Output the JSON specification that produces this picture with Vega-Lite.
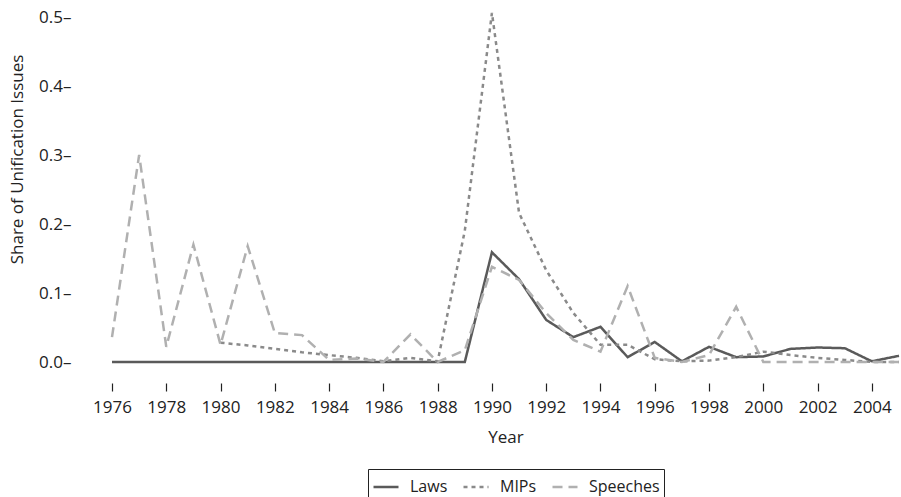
{
  "$schema": "https://vega.github.io/schema/vega-lite/v6.json",
  "width": 787,
  "height": 345,
  "autosize": {"type": "none"},
  "padding": {"left": 112, "top": 17, "right": 2, "bottom": 135},
  "config": {"view": {"stroke": null}, "font": "Open Sans", "axis": {"grid": false}},
  "data": {"values": [
    {"year": 1976, "series": "Laws", "value": 0},
    {"year": 1977, "series": "Laws", "value": 0},
    {"year": 1978, "series": "Laws", "value": 0},
    {"year": 1979, "series": "Laws", "value": 0},
    {"year": 1980, "series": "Laws", "value": 0},
    {"year": 1981, "series": "Laws", "value": 0},
    {"year": 1982, "series": "Laws", "value": 0},
    {"year": 1983, "series": "Laws", "value": 0},
    {"year": 1984, "series": "Laws", "value": 0},
    {"year": 1985, "series": "Laws", "value": 0},
    {"year": 1986, "series": "Laws", "value": 0},
    {"year": 1987, "series": "Laws", "value": 0},
    {"year": 1988, "series": "Laws", "value": 0},
    {"year": 1989, "series": "Laws", "value": 0},
    {"year": 1990, "series": "Laws", "value": 0.159},
    {"year": 1991, "series": "Laws", "value": 0.120},
    {"year": 1992, "series": "Laws", "value": 0.061},
    {"year": 1993, "series": "Laws", "value": 0.036},
    {"year": 1994, "series": "Laws", "value": 0.051},
    {"year": 1995, "series": "Laws", "value": 0.007},
    {"year": 1996, "series": "Laws", "value": 0.029},
    {"year": 1997, "series": "Laws", "value": 0.001},
    {"year": 1998, "series": "Laws", "value": 0.022},
    {"year": 1999, "series": "Laws", "value": 0.007},
    {"year": 2000, "series": "Laws", "value": 0.008},
    {"year": 2001, "series": "Laws", "value": 0.019},
    {"year": 2002, "series": "Laws", "value": 0.021},
    {"year": 2003, "series": "Laws", "value": 0.020},
    {"year": 2004, "series": "Laws", "value": 0.001},
    {"year": 2005, "series": "Laws", "value": 0.009},
    {"year": 1980, "series": "MIPs", "value": 0.028},
    {"year": 1981, "series": "MIPs", "value": 0.024},
    {"year": 1982, "series": "MIPs", "value": 0.019},
    {"year": 1983, "series": "MIPs", "value": 0.014},
    {"year": 1984, "series": "MIPs", "value": 0.010},
    {"year": 1985, "series": "MIPs", "value": 0.006},
    {"year": 1986, "series": "MIPs", "value": 0.001},
    {"year": 1987, "series": "MIPs", "value": 0.006},
    {"year": 1988, "series": "MIPs", "value": 0.001},
    {"year": 1989, "series": "MIPs", "value": 0.19},
    {"year": 1990, "series": "MIPs", "value": 0.506},
    {"year": 1991, "series": "MIPs", "value": 0.216},
    {"year": 1992, "series": "MIPs", "value": 0.133},
    {"year": 1993, "series": "MIPs", "value": 0.071},
    {"year": 1994, "series": "MIPs", "value": 0.025},
    {"year": 1995, "series": "MIPs", "value": 0.025},
    {"year": 1996, "series": "MIPs", "value": 0.004},
    {"year": 1997, "series": "MIPs", "value": 0.001},
    {"year": 1998, "series": "MIPs", "value": 0.002},
    {"year": 1999, "series": "MIPs", "value": 0.007},
    {"year": 2000, "series": "MIPs", "value": 0.015},
    {"year": 2001, "series": "MIPs", "value": 0.010},
    {"year": 2002, "series": "MIPs", "value": 0.006},
    {"year": 2003, "series": "MIPs", "value": 0.003},
    {"year": 2004, "series": "MIPs", "value": 0.0},
    {"year": 2005, "series": "MIPs", "value": 0.0},
    {"year": 1976, "series": "Speeches", "value": 0.036},
    {"year": 1977, "series": "Speeches", "value": 0.30},
    {"year": 1978, "series": "Speeches", "value": 0.022},
    {"year": 1979, "series": "Speeches", "value": 0.17},
    {"year": 1980, "series": "Speeches", "value": 0.025},
    {"year": 1981, "series": "Speeches", "value": 0.168},
    {"year": 1982, "series": "Speeches", "value": 0.042},
    {"year": 1983, "series": "Speeches", "value": 0.039},
    {"year": 1984, "series": "Speeches", "value": 0.003},
    {"year": 1985, "series": "Speeches", "value": 0.005},
    {"year": 1986, "series": "Speeches", "value": 0.0},
    {"year": 1987, "series": "Speeches", "value": 0.040},
    {"year": 1988, "series": "Speeches", "value": 0.0},
    {"year": 1989, "series": "Speeches", "value": 0.017},
    {"year": 1990, "series": "Speeches", "value": 0.138},
    {"year": 1991, "series": "Speeches", "value": 0.119},
    {"year": 1992, "series": "Speeches", "value": 0.071},
    {"year": 1993, "series": "Speeches", "value": 0.032},
    {"year": 1994, "series": "Speeches", "value": 0.015},
    {"year": 1995, "series": "Speeches", "value": 0.110},
    {"year": 1996, "series": "Speeches", "value": 0.006},
    {"year": 1997, "series": "Speeches", "value": 0.0},
    {"year": 1998, "series": "Speeches", "value": 0.010},
    {"year": 1999, "series": "Speeches", "value": 0.080},
    {"year": 2000, "series": "Speeches", "value": 0.0},
    {"year": 2001, "series": "Speeches", "value": 0.0},
    {"year": 2002, "series": "Speeches", "value": 0.0},
    {"year": 2003, "series": "Speeches", "value": 0.0},
    {"year": 2004, "series": "Speeches", "value": 0.0},
    {"year": 2005, "series": "Speeches", "value": 0.0}
  ]},
  "mark": {"type": "line", "strokeWidth": 2.5, "clip": false},
  "encoding": {
    "x": {
      "field": "year", "type": "quantitative",
      "scale": {"domain": [1976, 2005], "nice": false, "zero": false},
      "axis": {
        "values": [1976, 1978, 1980, 1982, 1984, 1986, 1988, 1990, 1992, 1994, 1996, 1998, 2000, 2002, 2004],
        "format": "d", "title": "Year", "domain": false, "offset": 21,
        "tickSize": 8, "tickColor": "#222", "tickWidth": 1.2,
        "labelPadding": 8, "labelFontSize": 17, "labelColor": "#222", "labelOverlap": false, "labelFlush": false,
        "titleFontSize": 17, "titleFontWeight": "normal", "titleColor": "#222", "titlePadding": 14
      }
    },
    "y": {
      "field": "value", "type": "quantitative",
      "scale": {"domain": [0, 0.5], "nice": false},
      "axis": {
        "values": [0, 0.1, 0.2, 0.3, 0.4, 0.5],
        "labelExpr": "format(datum.value, '.1f') + '–'",
        "ticks": false, "domain": false, "labelPadding": 41,
        "labelFontSize": 17, "labelColor": "#222", "labelOverlap": false, "labelFlush": false,
        "title": "Share of Unification Issues",
        "titleFontSize": 17, "titleFontWeight": "normal", "titleColor": "#222",
        "titleX": -95, "titleY": 142, "titleAngle": -90, "titleBaseline": "middle", "titleAlign": "center"
      }
    },
    "color": {
      "field": "series", "type": "nominal",
      "scale": {"domain": ["Laws", "MIPs", "Speeches"], "range": ["#5a5a5a", "#8a8a8a", "#b0b0b0"]},
      "legend": {
        "orient": "none", "legendX": 256, "legendY": 452, "direction": "horizontal", "title": null,
        "strokeColor": "#222", "padding": 4, "symbolType": "stroke", "symbolSize": 625,
        "symbolStrokeWidth": 2.5, "labelFontSize": 16, "labelColor": "#222", "columnPadding": 10, "labelOffset": 10
      }
    },
    "strokeDash": {
      "field": "series", "type": "nominal",
      "scale": {"domain": ["Laws", "MIPs", "Speeches"], "range": [[1, 0], [4, 4], [10, 6]]},
      "legend": {
        "orient": "none", "legendX": 256, "legendY": 452, "direction": "horizontal", "title": null,
        "strokeColor": "#222", "padding": 4, "symbolType": "stroke", "symbolSize": 625,
        "symbolStrokeWidth": 2.5, "labelFontSize": 16, "labelColor": "#222", "columnPadding": 10, "labelOffset": 10
      }
    }
  }
}
